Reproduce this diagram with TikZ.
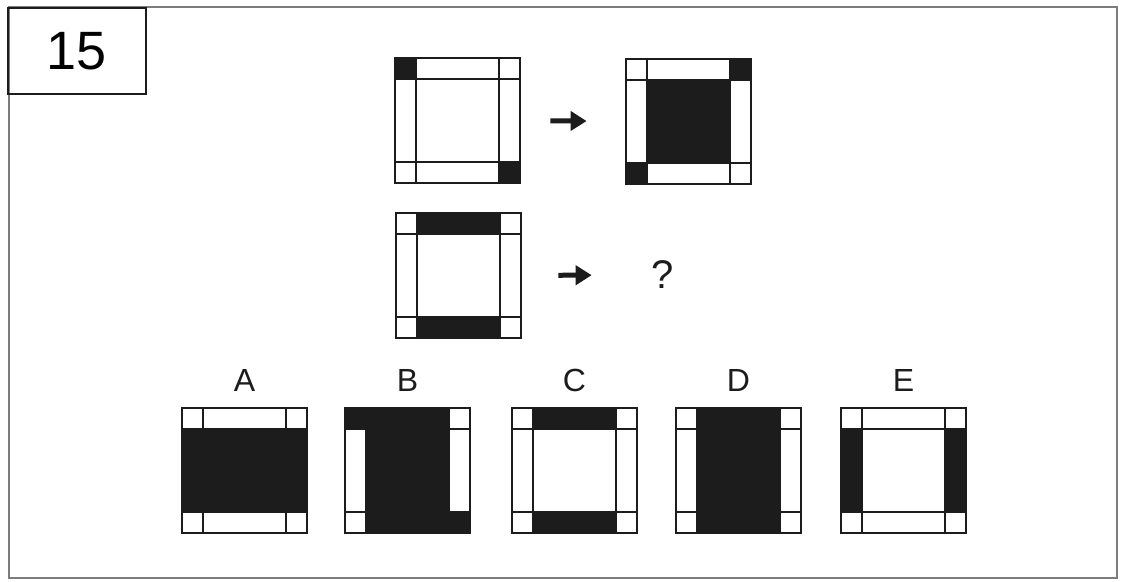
\documentclass[tikz,border=0pt]{standalone}
\usepackage{fontspec}
\setmainfont{Liberation Sans}
\usetikzlibrary{arrows.meta, positioning}
\definecolor{ink}{HTML}{1c1c1c}
\definecolor{framegray}{HTML}{7c7c7c}

% tile: name, left, top, filled cells (col/row)
\newcommand{\tile}[4]{%
  \foreach \cx/\ry in {#4} {
    \pgfmathsetmacro\xa{{0,21,104}[\cx]}
    \pgfmathsetmacro\xb{{21,104,125}[\cx]}
    \pgfmathsetmacro\ya{{0,21,104}[\ry]}
    \pgfmathsetmacro\yb{{21,104,125}[\ry]}
    \fill[ink] (#2+\xa,#3+\ya) rectangle (#2+\xb,#3+\yb);
  }
  \node[tilebox] (#1) at (#2+62.5,#3+62.5) {};
  \draw[gridline] (#2+21,#3) -- (#2+21,#3+125);
  \draw[gridline] (#2+104,#3) -- (#2+104,#3+125);
  \draw[gridline] (#2,#3+21) -- (#2+125,#3+21);
  \draw[gridline] (#2,#3+104) -- (#2+125,#3+104);
}

\begin{document}
\begin{tikzpicture}[
  x=1pt, y=-1pt,
  tilebox/.style={rectangle, draw=ink, line width=2.8pt, minimum size=125pt, inner sep=0pt},
  gridline/.style={draw=ink, line width=2.5pt},
  numbox/.style={rectangle, draw=ink, line width=2.5pt, minimum width=138pt, minimum height=86pt, font=\fontsize{54}{60}\selectfont},
  letter/.style={inner sep=0pt, font=\fontsize{32}{36}\selectfont, text=ink},
  arrow/.style={-{Triangle[length=16pt,width=19pt]}, line width=5pt, color=ink}
]
\useasboundingbox (0,0) rectangle (1121,581);
\draw[framegray, line width=2.2pt] (9,7) rectangle (1117,578);
\node[numbox] (num) at (77,51) {15};

% example pair
\tile{q1}{395}{58}{0/0, 2/2}
\tile{q2}{626}{59}{2/0, 0/2, 1/1}
\draw[arrow, shorten <=29pt, shorten >=38pt] (q1) -- (q2);

% question
\tile{q3}{396}{213}{1/0, 1/2}
\node[letter, font=\fontsize{40}{44}\selectfont] (qm) at (663,275) {?};
\draw[arrow, shorten <=36pt, shorten >=60pt] (q3) -- (qm);

% answers
\tile{a}{182}{408}{0/1, 1/1, 2/1}
\tile{b}{345}{408}{0/0, 1/0, 1/1, 1/2, 2/2}
\tile{c}{512}{408}{1/0, 1/2}
\tile{d}{676}{408}{1/0, 1/1, 1/2}
\tile{e}{841}{408}{0/1, 2/1}
\node[letter, above=15pt of a] (la) {A};
\node[letter, above=15pt of b] (lb) {B};
\node[letter, above=15pt of c] (lc) {C};
\node[letter, above=15pt of d] (ld) {D};
\node[letter, above=15pt of e] (le) {E};
\end{tikzpicture}
\end{document}
